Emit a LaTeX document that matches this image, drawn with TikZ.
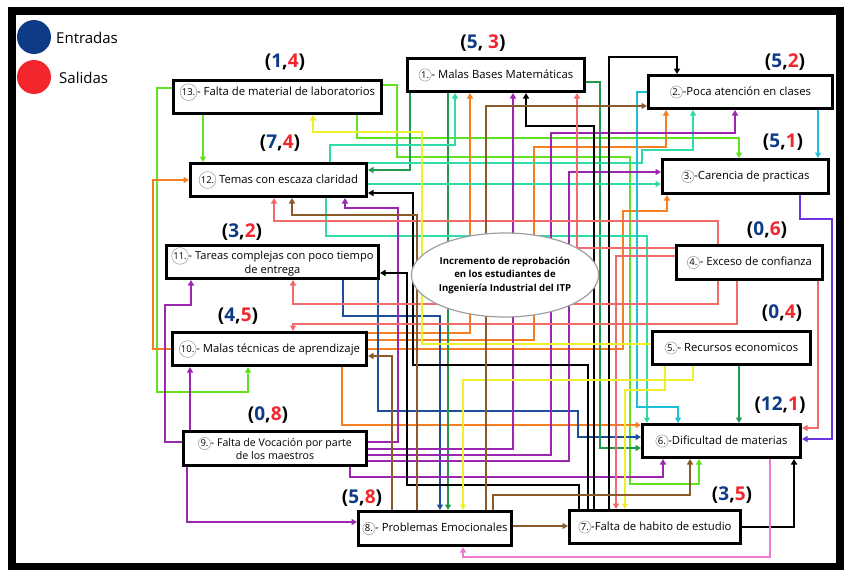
\documentclass[tikz,border=0pt]{standalone}
\usepackage{fontspec}
\setmainfont{Open Sans}
\usetikzlibrary{arrows.meta,shapes.geometric}
\definecolor{cLime}{HTML}{5FE31E}
\definecolor{cDG}{HTML}{1F9A4C}
\definecolor{cTeal}{HTML}{2FDBA8}
\definecolor{cCyan}{HTML}{1BBFD6}
\definecolor{cOr}{HTML}{F57F20}
\definecolor{cBr}{HTML}{8B5A2B}
\definecolor{cPu}{HTML}{9B27B0}
\definecolor{cSa}{HTML}{F26B6B}
\definecolor{cYe}{HTML}{EEF02A}
\definecolor{cBl}{HTML}{1D4E9A}
\definecolor{cPk}{HTML}{F07ACF}
\definecolor{cVi}{HTML}{6A35E0}
\definecolor{numB}{HTML}{0E3A86}
\definecolor{numR}{HTML}{F2262C}
\newcommand{\cnum}[1]{\tikz[baseline=(cc.base)]\node[circle,minimum width=0pt,minimum height=0pt,draw=gray!80,fill=none,line width=0.5pt,inner sep=0.6pt,align=left,font=\fontsize{9.5}{9.5}\selectfont](cc){#1};}
\newcommand{\pairlab}[2]{(\textcolor{numB}{#1},\textcolor{numR}{#2})}
\tikzset{
  box/.style={draw=black, line width=3pt, fill=white, inner sep=0pt, align=center, font=\fontsize{11.3}{14}\selectfont},
  lab/.style={inner sep=0pt, font=\bfseries\fontsize{19}{19}\selectfont},
  c/.style={line width=2pt, -{Triangle[length=5.5pt,width=6pt]}},
}
\begin{document}
\begin{tikzpicture}[x=1pt,y=-1pt]
\useasboundingbox (0,0) rectangle (844,570);
\fill[white] (0,0) rectangle (844,570);
% legend
\node[circle, fill=numB, minimum size=34pt, inner sep=0pt] (lgin) at (34,37) {};
\node[anchor=west, inner sep=0pt, font=\fontsize{15}{15}\selectfont] (lgint) at (56,38) {Entradas};
\node[circle, fill=numR, minimum size=34pt, inner sep=0pt] (lgout) at (34,77) {};
\node[anchor=west, inner sep=0pt, font=\fontsize{15}{15}\selectfont] (lgoutt) at (59,78) {Salidas};
% boxes
\node[box, minimum width=177pt, minimum height=33pt] (n1) at (496,75) {\cnum{1.}- Malas Bases Matemáticas};
\node[box, minimum width=184pt, minimum height=33pt] (n2) at (740.5,92) {\cnum{2.}-Poca atención en clases};
\node[box, minimum width=166pt, minimum height=34pt] (n3) at (745.5,176.5) {\cnum{3.}-Carencia de practicas};
\node[box, minimum width=146pt, minimum height=34pt] (n4) at (749.5,262.5) {\cnum{4.}- Exceso de confianza};
\node[box, minimum width=158pt, minimum height=33pt] (n5) at (731.5,348) {\cnum{5.}- Recursos economicos};
\node[box, minimum width=158pt, minimum height=33pt] (n6) at (721.5,441) {\cnum{6.}-Dificultad de materias};
\node[box, minimum width=171pt, minimum height=33pt] (n7) at (655,527) {\cnum{7.}-Falta de habito de estudio};
\node[box, minimum width=153pt, minimum height=34pt] (n8) at (435,528.5) {\cnum{8.}- Problemas Emocionales};
\node[box, minimum width=183pt, minimum height=34pt, font=\fontsize{10.6}{13}\selectfont] (n9) at (275,448.5) {\cnum{9.}- Falta de Vocación por parte\\de los maestros};
\node[box, minimum width=194pt, minimum height=33pt] (n10) at (269.5,349) {\cnum{10.}- Malas técnicas de aprendizaje};
\node[box, minimum width=212pt, minimum height=33pt, font=\fontsize{11.1}{13}\selectfont] (n11) at (272.5,262) {\cnum{11.}- Tareas complejas con poco tiempo\\de entrega};
\node[box, minimum width=176pt, minimum height=33pt] (n12) at (278.5,180) {\cnum{12.} Temas con escaza claridad};
\node[box, minimum width=208pt, minimum height=33pt, font=\fontsize{11.3}{15}\selectfont] (n13) at (277.5,97) {\cnum{13.}- Falta de material de laboratorios\\~};
% labels
\node[lab] (l1) at (483,43) {(\textcolor{numB}{5}, \textcolor{numR}{3})};
\node[lab] (l2) at (785,62) {\pairlab{5}{2}};
\node[lab] (l3) at (783,142) {\pairlab{5}{1}};
\node[lab] (l4) at (767,230) {\pairlab{0}{6}};
\node[lab] (l5) at (782,313) {\pairlab{0}{4}};
\node[lab] (l6) at (780,405) {\pairlab{12}{1}};
\node[lab] (l7) at (732,495) {\pairlab{3}{5}};
\node[lab] (l8) at (362,498) {\pairlab{5}{8}};
\node[lab] (l9) at (268,415) {\pairlab{0}{8}};
\node[lab] (l10) at (238,316) {\pairlab{4}{5}};
\node[lab] (l11) at (242,232) {\pairlab{3}{2}};
\node[lab] (l12) at (280,143) {\pairlab{7}{4}};
\node[lab] (l13) at (285,62) {\pairlab{1}{4}};
% lime (13)
\draw[c,cLime] (203,0 |- n13.south) -- (203,0 |- n12.north);
\draw[c,cLime] (n13.west |- 0,88) -- (157,88) -- (157,392) -- (248,392) -- (248,0 |- n10.south);
\draw[c,cLime] (357,0 |- n13.south) -- (357,138) -- (739,138) -- (739,0 |- n3.north);
\draw[c,cLime] (n13.east |- 0,85) -- (397,85) -- (397,157) -- (630,157) -- (630,484) -- (699,484) -- (699,0 |- n6.south);
% orange (10)
\draw[c,cOr] (n10.west |- 0,349) -- (153,349) -- (153,180) -- (n12.west |- 0,180);
\draw[c,cOr] (342,0 |- n10.south) -- (342,425) -- (n6.west |- 0,425);
\draw[c,cOr] (n10.east |- 0,333) -- (470,333) -- (470,0 |- n1.south);
\draw[c,cOr] (n10.east |- 0,340) -- (534,340) -- (534,147) -- (666,147) -- (666,0 |- n2.south);
\draw[c,cOr] (n10.east |- 0,349) -- (623,349) -- (623,211) -- (667,211) -- (667,0 |- n3.south);
% dark blue (11)
\draw[c,cBl] (343,0 |- n11.south) -- (343,316) -- (440,316) -- (440,0 |- n8.north);
\draw[c,cBl] (378,0 |- n11.south) -- (378,411) -- (578,411) -- (578,437) -- (n6.west |- 0,437);
% dark green (1, 5)
\draw[c,cDG] (410,0 |- n1.south) -- (410,170) -- (n12.east |- 0,170);
\draw[c,cDG] (448,0 |- n1.south) -- (448,0 |- n8.north);
\draw[c,cDG] (n1.east |- 0,82) -- (600,82) -- (600,448) -- (n6.west |- 0,448);
\draw[c,cDG] (739,0 |- n5.south) -- (739,0 |- n6.north);
% teal (12)
\draw[c,cTeal] (330,0 |- n12.north) -- (330,145) -- (455,145) -- (455,0 |- n1.south);
\draw[c,cTeal] (326,0 |- n12.south) -- (326,236) -- (647,236) -- (647,0 |- n6.north);
\draw[c,cTeal] (n12.east |- 0,184) -- (n3.west |- 0,184);
\draw[c,cTeal] (n12.east |- 0,163) -- (642,163) -- (642,150) -- (693,150) -- (693,0 |- n2.south);
% cyan (2)
\draw[c,cCyan] (818,0 |- n2.south) -- (818,0 |- n3.north);
\draw[c,cCyan] (n2.west |- 0,92) -- (637,92) -- (637,407) -- (678,407) -- (678,0 |- n6.north);
% purple (9)
\draw[c,cPu] (n9.east |- 0,442) -- (398,442) -- (398,208) -- (345,208) -- (345,0 |- n12.south);
\draw[c,cPu] (n9.east |- 0,449) -- (513,449) -- (513,0 |- n1.south);
\draw[c,cPu] (n9.east |- 0,455) -- (551,455) -- (551,133) -- (735,133) -- (735,0 |- n2.south);
\draw[c,cPu] (n9.east |- 0,461) -- (569,461) -- (569,172) -- (n3.west |- 0,172);
\draw[c,cPu] (350,0 |- n9.south) -- (350,477) -- (663,477) -- (663,0 |- n6.south);
\draw[c,cPu] (187,0 |- n9.south) -- (187,522) -- (n8.west |- 0,522);
\draw[c,cPu] (190,0 |- n9.north) -- (190,0 |- n10.south);
\draw[c,cPu] (n9.west |- 0,442) -- (165,442) -- (165,305) -- (191,305) -- (191,0 |- n11.south);
% black (7)
\draw[c,black] (588,0 |- n7.north) -- (588,365) -- (413,365) -- (413,193) -- (n12.east |- 0,193);
\draw[c,black] (579,0 |- n7.north) -- (579,485) -- (407,485) -- (407,273) -- (n11.east |- 0,273);
\draw[c,black] (594,0 |- n7.north) -- (594,126) -- (526,126) -- (526,0 |- n1.south);
\draw[c,black] (609,0 |- n7.north) -- (609,57) -- (677,57) -- (677,0 |- n2.north);
\draw[c,black] (n7.east) -- (794,527) -- (794,0 |- n6.south);
% salmon (4)
\draw[c,cSa] (718,0 |- n4.north) -- (718,221) -- (274,221) -- (274,0 |- n12.south);
\draw[c,cSa] (718,0 |- n4.south) -- (718,304) -- (293,304) -- (293,0 |- n11.south);
\draw[c,cSa] (737,0 |- n4.south) -- (737,324) -- (293,324) -- (293,0 |- n10.north);
\draw[c,cSa] (818,0 |- n4.south) -- (818,428) -- (n6.east |- 0,428);
\draw[c,cSa] (n4.west |- 0,248) -- (577,248) -- (577,0 |- n1.south);
\draw[c,cSa] (n4.west |- 0,256) -- (616,256) -- (616,0 |- n7.north);
% yellow (5)
\draw[c,cYe] (665,0 |- n5.south) -- (665,390) -- (625,390) -- (625,0 |- n7.north);
\draw[c,cYe] (693,0 |- n5.south) -- (693,380) -- (463,380) -- (463,0 |- n8.north);
\draw[c,cYe] (n5.west |- 0,344) -- (422,344) -- (422,132) -- (313,132) -- (313,0 |- n13.south);
% brown (8)
\draw[c,cBr] (417,0 |- n8.north) -- (417,215) -- (292,215) -- (292,0 |- n12.south);
\draw[c,cBr] (392,0 |- n8.north) -- (392,356) -- (n10.east |- 0,356);
\draw[c,cBr] (486,0 |- n8.north) -- (486,106) -- (n2.west |- 0,106);
\draw[c,cBr] (493,0 |- n8.north) -- (493,495) -- (690,495) -- (690,0 |- n6.south);
\draw[c,cBr] (n8.east |- 0,526) -- (n7.west |- 0,526);
% violet (3)
\draw[c,cVi] (800,0 |- n3.south) -- (800,219) -- (832,219) -- (832,439) -- (n6.east |- 0,439);
% pink (6)
\draw[c,cPk] (770,0 |- n6.south) -- (770,557) -- (463,557) -- (463,0 |- n8.south);
% central ellipse
\node[ellipse, draw=gray!75, line width=1.2pt, fill=white, minimum width=162pt, minimum height=84pt, inner sep=0pt, align=center, font=\bfseries\fontsize{9.6}{13.5}\selectfont] (goal) at (505,275) {Incremento de reprobación\\en los estudiantes de\\Ingeniería Industrial del ITP};
% frame
\draw[line width=8pt] (12,11) rectangle (839.5,566.5);
\end{tikzpicture}
\end{document}
